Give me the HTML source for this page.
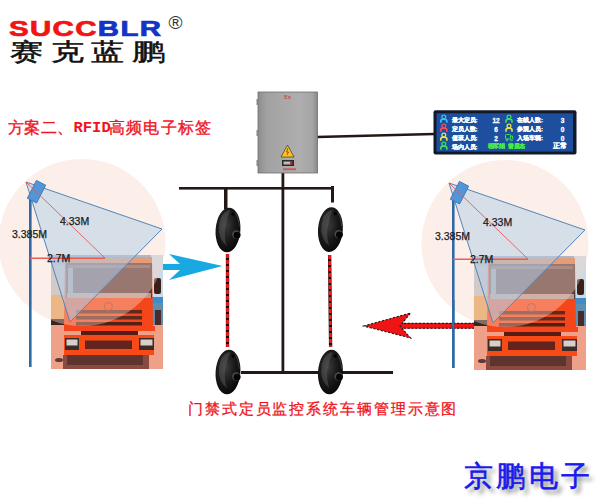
<!DOCTYPE html>
<html><head><meta charset="utf-8">
<style>
html,body{margin:0;padding:0;background:#fff;width:600px;height:500px;overflow:hidden;position:relative}
.t{position:absolute;font-family:"Liberation Sans",sans-serif;line-height:1;white-space:nowrap}
svg{position:absolute;left:0;top:0}
</style></head><body>
<svg width="600" height="500" viewBox="0 0 600 500">
<defs>
  <radialGradient id="sens" cx="0.4" cy="0.4" r="0.7">
    <stop offset="0" stop-color="#3c3c3c"/>
    <stop offset="0.5" stop-color="#1a1a1a"/>
    <stop offset="1" stop-color="#040404"/>
  </radialGradient>
  <radialGradient id="hole" cx="0.5" cy="0.5" r="0.5">
    <stop offset="0" stop-color="#000"/>
    <stop offset="0.6" stop-color="#111"/>
    <stop offset="1" stop-color="#777"/>
  </radialGradient>
  <linearGradient id="boxg" x1="0" y1="0" x2="1" y2="0">
    <stop offset="0" stop-color="#8e8e8e"/>
    <stop offset="0.15" stop-color="#a2a2a2"/>
    <stop offset="0.7" stop-color="#aeaeae"/>
    <stop offset="0.92" stop-color="#a4a4a4"/>
    <stop offset="1" stop-color="#888"/>
  </linearGradient>
  <g id="truck">
    <!-- background sky -->
    <rect x="0" y="0" width="112" height="114" fill="#9dbad6"/>
    <rect x="0" y="0" width="112" height="3" fill="#7aa6cf"/>
    <!-- left background truck -->
    <rect x="0" y="10" width="14" height="40" fill="#b9c4cc"/>
    <rect x="0" y="40" width="14" height="28" fill="#e3a35e"/>
    <rect x="0" y="64" width="14" height="7" fill="#3a2420"/>
    <!-- right background -->
    <rect x="100" y="0" width="12" height="42" fill="#c9dae8"/>
    <rect x="100" y="42" width="12" height="6" fill="#3f8cc6"/>
    <rect x="100" y="48" width="12" height="22" fill="#5f8fb0"/>
    <rect x="104" y="55" width="6" height="22" fill="#4a2a28"/>
    <!-- ground -->
    <rect x="0" y="70" width="112" height="44" fill="#eea088"/>
    <!-- cab -->
    <path d="M14,4 Q14,2 20,2 L96,2 Q101,2 101,5 L102,71 L13,71 Z" fill="#f5461a"/>
    <rect x="14" y="2" width="87" height="6" fill="#d8784a"/>
    <rect x="15" y="8" width="86" height="35" fill="#5a3a3a"/>
    <rect x="17" y="10" width="82" height="3" fill="#7a5a56"/>
    <rect x="17" y="13" width="5" height="26" fill="#9a9aa0"/>
    <rect x="16" y="38" width="84" height="5" fill="#b89a90"/>
    <rect x="103" y="23" width="7" height="16" rx="2" fill="#3a2018"/>
    <!-- grille -->
    <rect x="25" y="55" width="66" height="3.5" fill="#5e2a1e"/>
    <rect x="25" y="61" width="66" height="3.5" fill="#5e2a1e"/>
    <rect x="25" y="67" width="66" height="3.5" fill="#4e2219"/>
    <circle cx="57.4" cy="51.5" r="4" fill="none" stroke="#a03a1c" stroke-width="1"/>
    <!-- bumper -->
    <rect x="13" y="71" width="91" height="5" fill="#f8441a"/>
    <rect x="30" y="76" width="57" height="4" fill="#581c14"/>
    <rect x="13" y="80" width="90" height="20" fill="#f84a16"/>
    <rect x="14" y="83" width="14" height="12" fill="#3e2a26"/>
    <rect x="15.5" y="84.5" width="11" height="6" fill="#d6cfcc"/>
    <rect x="88" y="83" width="15" height="12" fill="#3e2a26"/>
    <rect x="89.5" y="84.5" width="12" height="6" fill="#d6cfcc"/>
    <rect x="34" y="85.5" width="47" height="8.5" fill="#62241c"/>
    <rect x="12" y="100" width="86" height="14" fill="#8a4a40"/>
    <rect x="16" y="100" width="76" height="10" fill="#5e342e"/>
    <ellipse cx="8" cy="105" rx="4" ry="2" fill="#5a3a3a"/>
  </g>
  <g id="pole">
    <use href="#truck" x="51" y="255"/>
    <circle cx="82" cy="242.5" r="83.5" fill="#f7d4c5" fill-opacity="0.4"/>
    <polygon points="26,182 162,229 70,322" fill="#b0cde8" fill-opacity="0.5" stroke="#5584b8" stroke-width="1"/>
    <rect x="29" y="199" width="2.6" height="168" fill="#2f6aa6"/>
    <rect x="31.3" y="181.7" width="10.4" height="20" transform="rotate(27 36.5 191.7)" fill="#5296d8" stroke="#3a74b4" stroke-width="0.8"/>
    <line x1="26" y1="182" x2="105" y2="258" stroke="#e55a5a" stroke-width="0.9"/>
    <line x1="30" y1="258.3" x2="105" y2="258.3" stroke="#ec5c56" stroke-width="1.5"/>
    
  </g>
  <g id="sensor">
    <g transform="rotate(4)">
    <ellipse cx="0" cy="0" rx="12.4" ry="22.4" fill="url(#sens)"/>
    <path d="M-8,-12 Q-5,-19 1,-20 Q-2,-12 -3,-2 Q-3.5,8 0,16 Q-7,12 -9,2 Q-10,-5 -8,-12Z" fill="#6a6a6a" opacity="0.4"/>
    <path d="M6,-18 Q10,-12 11,-4" stroke="#555" stroke-width="1" fill="none" opacity="0.6"/>
    </g>
    <circle cx="8.3" cy="4.5" r="4.2" fill="#4a4a4a"/>
    <circle cx="9" cy="5.2" r="3.4" fill="#050505"/>
    <circle cx="5" cy="-16" r="1.6" fill="#000"/>
  </g>
</defs>

<!-- left & right pole systems -->
<use href="#pole"/>
<use href="#pole" x="423" y="1"/>

<!-- blue arrow -->
<polygon points="163,264 180,264 169,254 222.5,266 169,280 180,270 163,270" fill="#18a9e2"/>

<!-- red arrow -->
<rect x="400" y="323" width="74" height="5.6" fill="#f01414"/>
<line x1="400" y1="323.4" x2="474" y2="323.4" stroke="#1a1a1a" stroke-width="1.1" stroke-dasharray="2.2 1.6"/>
<line x1="400" y1="328.2" x2="474" y2="328.2" stroke="#1a1a1a" stroke-width="1.1" stroke-dasharray="2.2 1.6"/>
<polygon points="363.6,326 410.6,313 400,326 410.6,338" fill="#f01414" stroke="#1a1a1a" stroke-width="1.1" stroke-dasharray="2.2 1.6"/>
<rect x="452" y="300" width="2.4" height="68" fill="#2f6aa6"/>

<!-- wires -->
<g fill="#231815">
  <rect x="179" y="187" width="155" height="2.6"/>
  <rect x="224" y="187" width="3.5" height="22"/>
  <rect x="331" y="186" width="3" height="16.5"/>
  <rect x="281.5" y="172" width="2.8" height="201"/>
  <rect x="241" y="371" width="152" height="3"/>
</g>
<line x1="317" y1="137" x2="434" y2="134" stroke="#231815" stroke-width="2.6"/>

<!-- dashed beams -->
<line x1="227.5" y1="254" x2="227.5" y2="347" stroke="#1a0a0a" stroke-width="3.3"/>
<line x1="227.5" y1="254" x2="227.5" y2="347" stroke="#f41a1a" stroke-width="2.7" stroke-dasharray="4 2"/>
<line x1="329.6" y1="255" x2="330.6" y2="347" stroke="#1a0a0a" stroke-width="3.3"/>
<line x1="329.6" y1="255" x2="330.6" y2="347" stroke="#f41a1a" stroke-width="2.7" stroke-dasharray="4 2"/>

<!-- sensors -->
<use href="#sensor" x="228" y="230"/>
<use href="#sensor" x="330.4" y="229.6"/>
<use href="#sensor" x="228" y="372"/>
<use href="#sensor" x="330.4" y="372"/>

<!-- control box -->
<rect x="258" y="92" width="59.5" height="81" fill="url(#boxg)" stroke="#6e6e6e" stroke-width="0.8"/>
<text x="287.5" y="98.5" font-family="Liberation Serif" font-size="6.5" fill="#c83030" text-anchor="middle">Ex</text>
<rect x="256.5" y="99" width="2" height="6" fill="#888"/>
<rect x="256.5" y="130" width="2" height="6" fill="#888"/>
<rect x="256.5" y="160" width="2" height="6" fill="#888"/>
<polygon points="287.5,145 294,157 281,157" fill="#f2c81c" stroke="#222" stroke-width="0.6"/>
<path d="M288,148 L286.5,152 L288.5,152 L287,155" stroke="#d02020" stroke-width="0.9" fill="none"/>
<rect x="282" y="160" width="12" height="6" fill="#2a2a2a"/>
<rect x="283.5" y="161.5" width="7" height="3" fill="#bbb"/>
<rect x="290.5" y="161" width="2" height="4" fill="#c02020"/>
<rect x="283" y="168.3" width="13" height="1.8" fill="#d04040" opacity="0.75"/>

<!-- LED display -->
<rect x="433.5" y="110.3" width="143" height="44.2" rx="2" fill="#121a2a"/>
<rect x="436.5" y="113.3" width="136.5" height="38.3" fill="#1d4f9e"/>
</svg>


<!-- LED content -->
<svg width="600" height="500" viewBox="0 0 600 500" style="position:absolute;left:0;top:0">
<defs>
<g id="person"><circle cx="0" cy="-2.3" r="1.9" fill="none" stroke-width="1.3"/><path d="M-3,3.4 L-3,1.5 Q-3,-0.2 0,-0.2 Q3,-0.2 3,1.5 L3,3.4" fill="none" stroke-width="1.6"/></g>
</defs>
<use href="#person" x="443.8" y="119.3" stroke="#3fc0ee"/>
<use href="#person" x="443.8" y="128.3" stroke="#ff4a5a"/>
<use href="#person" x="443.8" y="137.3" stroke="#e6e64a"/>
<use href="#person" x="443.8" y="146.3" stroke="#3ee05a"/>
<use href="#person" x="509" y="119.3" stroke="#3ee05a"/>
<use href="#person" x="509" y="128.3" stroke="#e6e64a"/>
<g stroke="#3ee05a" fill="none" stroke-width="1"><rect x="505.5" y="134.5" width="5" height="4.5" rx="1"/><path d="M510.5,136 L512.5,136 L513,139"/><circle cx="507" cy="140" r="0.9"/><circle cx="511.5" cy="140" r="0.9"/></g>
</svg>
<div class="t" style="left:451.5px;top:116px;font-size:6px;font-weight:bold;color:#fff;line-height:9px;-webkit-text-stroke:0.25px #fff">最大定员:<br>定员人数:<br>值班人员:<br>场内人员:</div>
<div class="t" style="left:517px;top:116px;font-size:6px;font-weight:bold;color:#fff;line-height:9px;-webkit-text-stroke:0.25px #fff">在线人数:<br>参观人员:<br>入场车辆:</div>
<div class="t" style="left:491.5px;top:116px;font-size:6.5px;font-weight:bold;color:#fff;line-height:9px;width:9px;text-align:center;-webkit-text-stroke:0.3px #fff">12<br>6<br>2</div>
<div class="t" style="left:560px;top:116px;font-size:6.5px;font-weight:bold;color:#fff;line-height:9px;width:5px;text-align:center;-webkit-text-stroke:0.3px #fff">3<br>0<br>0</div>
<div class="t" style="left:487.5px;top:143px;font-size:6px;font-weight:bold;color:#4ae84a;letter-spacing:-0.3px;-webkit-text-stroke:0.25px #4ae84a">程军娟</div>
<div class="t" style="left:508px;top:143px;font-size:6px;font-weight:bold;color:#4ae84a;letter-spacing:-0.3px;-webkit-text-stroke:0.25px #4ae84a">曾显杰</div>
<div class="t" style="left:553px;top:143px;font-size:6.5px;font-weight:bold;color:#fff;-webkit-text-stroke:0.25px #fff">正常</div>

<!-- texts -->
<div class="t" style="left:9px;top:18.5px;font-size:21.3px;font-weight:bold;color:#f21414;transform:scaleX(1.38);transform-origin:0 0;letter-spacing:1.0px;-webkit-text-stroke:0.7px #f21414">SUCC<span style="color:#1434c4;-webkit-text-stroke:0.7px #1434c4">BLR</span></div>
<div class="t" style="left:168.5px;top:13px;font-size:19px;color:#333">®</div>
<div class="t" style="left:9.5px;top:40px;font-size:24px;color:#111;letter-spacing:5.45px;transform:scaleX(1.38);transform-origin:0 0;-webkit-text-stroke:0.5px #111">赛克蓝鹏</div>

<div class="t" style="left:7.5px;top:120px;font-size:16px;color:#f0141e;letter-spacing:0.6px;-webkit-text-stroke:0.35px #f0141e">方案二、</div>
<div class="t" style="left:73.5px;top:120.7px;font-size:15.5px;color:#f0141e;font-family:'Liberation Mono',monospace;font-weight:bold;letter-spacing:0px">RFID</div>
<div class="t" style="left:109px;top:120px;font-size:16px;color:#f0141e;letter-spacing:1.2px;-webkit-text-stroke:0.35px #f0141e">高频电子标签</div>

<div class="t" style="left:12px;top:229px;font-size:10.5px;color:#1a1a1a;-webkit-text-stroke:0.25px #1a1a1a">3.385M</div>
<div class="t" style="left:60px;top:216px;font-size:10.5px;color:#1a1a1a;-webkit-text-stroke:0.25px #1a1a1a">4.33M</div>
<div class="t" style="left:47px;top:253px;font-size:10.5px;color:#1a1a1a;-webkit-text-stroke:0.25px #1a1a1a">2.7M</div>
<div class="t" style="left:435px;top:231px;font-size:10.5px;color:#1a1a1a;-webkit-text-stroke:0.25px #1a1a1a">3.385M</div>
<div class="t" style="left:483px;top:217px;font-size:10.5px;color:#1a1a1a;-webkit-text-stroke:0.25px #1a1a1a">4.33M</div>
<div class="t" style="left:470px;top:254px;font-size:10.5px;color:#1a1a1a;-webkit-text-stroke:0.25px #1a1a1a">2.7M</div>

<div class="t" style="left:188px;top:401px;font-size:15px;color:#f0141e;letter-spacing:1.9px;-webkit-text-stroke:0.3px #f0141e">门禁式定员监控系统车辆管理示意图</div>

<div class="t" style="left:464px;top:462px;font-size:29px;color:#1a1aee;letter-spacing:3.3px;-webkit-text-stroke:0.6px #1a1aee;text-shadow:4px 4px 4px rgba(0,0,0,0.5)">京鹏电子</div>
</body></html>
